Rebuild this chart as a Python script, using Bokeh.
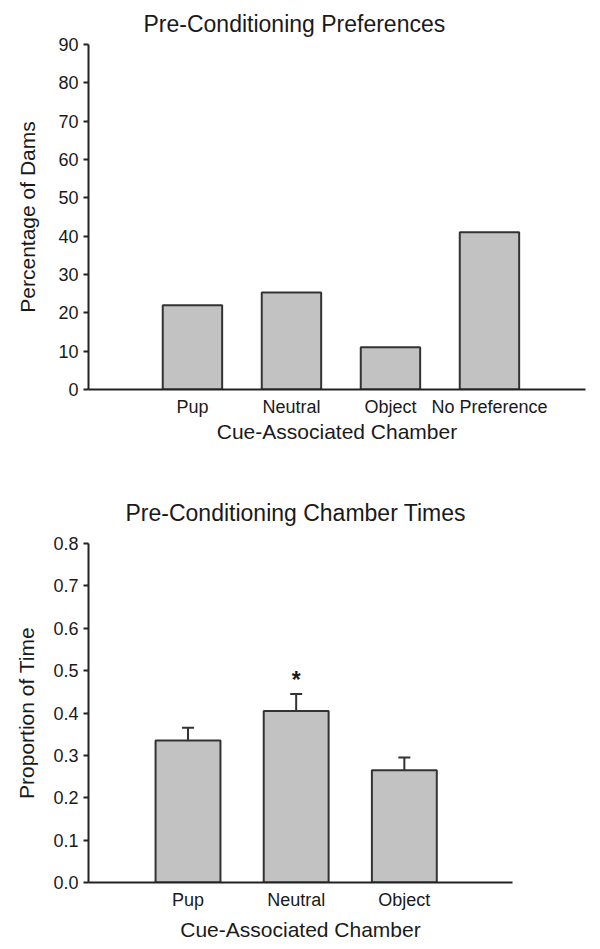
from bokeh.plotting import figure
from bokeh.models import (ColumnDataSource, FixedTicker, SingleIntervalTicker,
                          NumeralTickFormatter, Range1d, Whisker, TeeHead)
from bokeh.core.properties import value
from bokeh.embed import file_html
from bokeh.resources import INLINE

# ---------------- data ----------------
pref_title = "Pre-Conditioning Preferences"
pref_categories = ["Pup", "Neutral", "Object", "No Preference"]
pref_percent = [22, 25.3, 11, 41]
pref_y_label = "Percentage of Dams"

time_title = "Pre-Conditioning Chamber Times"
time_categories = ["Pup", "Neutral", "Object"]
time_proportion = [0.335, 0.405, 0.265]
time_sem = [0.03, 0.04, 0.03]
time_marks = ["", "*", ""]
time_y_label = "Proportion of Time"

x_label = "Cue-Associated Chamber"

# ---------------- style ----------------
FONT = "Liberation Sans"
TEXT = "#1a1a1a"
BAR_FILL = "#c2c2c2"
BAR_LINE = "#333333"
AXIS = "#222222"


def base_style(p, ylab, ylab_standoff, xlab_standoff):
    p.background_fill_color = "white"
    p.border_fill_color = "white"
    p.outline_line_color = None
    p.xgrid.visible = False
    p.ygrid.visible = False

    ya = p.yaxis[0]
    ya.axis_label = ylab
    ya.axis_label_text_font = FONT
    ya.axis_label_text_font_size = "21px"
    ya.axis_label_text_font_style = "normal"
    ya.axis_label_text_color = TEXT
    ya.axis_label_standoff = ylab_standoff
    ya.major_label_text_font = FONT
    ya.major_label_text_font_size = "18px"
    ya.major_label_text_color = TEXT
    ya.major_label_standoff = 5
    ya.axis_line_color = AXIS
    ya.axis_line_width = 2
    ya.major_tick_line_color = AXIS
    ya.major_tick_line_width = 2
    ya.major_tick_out = 5
    ya.major_tick_in = 0
    ya.minor_tick_line_color = None

    xa = p.xaxis[0]
    xa.axis_label = x_label
    xa.axis_label_text_font = FONT
    xa.axis_label_text_font_size = "21px"
    xa.axis_label_text_font_style = "normal"
    xa.axis_label_text_color = TEXT
    xa.axis_label_standoff = xlab_standoff
    xa.major_label_text_font = FONT
    xa.major_label_text_font_size = "18px"
    xa.major_label_text_color = TEXT
    xa.major_label_standoff = 7
    xa.axis_line_color = AXIS
    xa.axis_line_width = 2
    xa.major_tick_line_color = None
    xa.major_tick_out = 0
    xa.major_tick_in = 0
    xa.minor_tick_line_color = None


def style_title(p, offset, standoff, valign="bottom"):
    p.title.text_font = FONT
    p.title.text_font_size = "23px"
    p.title.text_font_style = "normal"
    p.title.text_color = TEXT
    p.title.align = "left"
    p.title.vertical_align = valign
    p.title.offset = offset
    p.title.standoff = standoff


# ---------------- top chart ----------------
pref_pos = [i + 1 for i in range(len(pref_categories))]
src1 = ColumnDataSource(dict(x=pref_pos, top=pref_percent, cat=pref_categories))

p1 = figure(width=592, height=470, output_backend="svg", toolbar_location=None,
            x_range=Range1d(-0.05, 4.97), y_range=Range1d(0, 90),
            min_border_left=88, min_border_right=7, min_border_top=44,
            min_border_bottom=81, title=pref_title)
p1.vbar(x="x", top="top", bottom=0, width=0.6, source=src1,
        fill_color=BAR_FILL, line_color=BAR_LINE, line_width=2)
base_style(p1, pref_y_label, 16, 0)
style_title(p1, 55, 15)
p1.yaxis[0].ticker = SingleIntervalTicker(interval=10, num_minor_ticks=0)
p1.xaxis[0].ticker = FixedTicker(ticks=pref_pos)
p1.xaxis[0].major_label_overrides = {pos: cat for pos, cat in zip(pref_pos, pref_categories)}

# ---------------- bottom chart ----------------
time_pos = [i + 1 for i in range(len(time_categories))]
time_upper = [v + e for v, e in zip(time_proportion, time_sem)]
src2 = ColumnDataSource(dict(x=time_pos, top=time_proportion, upper=time_upper,
                             mark=time_marks, cat=time_categories))

p2 = figure(width=592, height=479, output_backend="svg", toolbar_location=None,
            x_range=Range1d(0.08, 4.0), y_range=Range1d(0, 0.8),
            min_border_left=88, min_border_right=80, min_border_top=73,
            min_border_bottom=67, title=time_title)
p2.add_layout(Whisker(base="x", lower="top", upper="upper", source=src2,
                      dimension="height", line_color=BAR_LINE, line_width=2,
                      upper_head=TeeHead(size=12, line_color=BAR_LINE, line_width=2),
                      lower_head=None, level="underlay"))
p2.vbar(x="x", top="top", bottom=0, width=0.6, source=src2,
        fill_color=BAR_FILL, line_color=BAR_LINE, line_width=2)
p2.text(x="x", y="upper", text="mark", source=src2, text_font=value(FONT),
        text_font_size="23px", text_font_style="bold", text_color=TEXT,
        text_align="center", text_baseline="bottom", y_offset=-1)
base_style(p2, time_y_label, 12, 5)
style_title(p2, 37, 31, "top")
p2.yaxis[0].ticker = SingleIntervalTicker(interval=0.1, num_minor_ticks=0)
p2.yaxis[0].formatter = NumeralTickFormatter(format="0.0")
p2.xaxis[0].ticker = FixedTicker(ticks=time_pos)
p2.xaxis[0].major_label_overrides = {pos: cat for pos, cat in zip(time_pos, time_categories)}

open("out.html", "w").write(file_html([p1, p2], INLINE))
